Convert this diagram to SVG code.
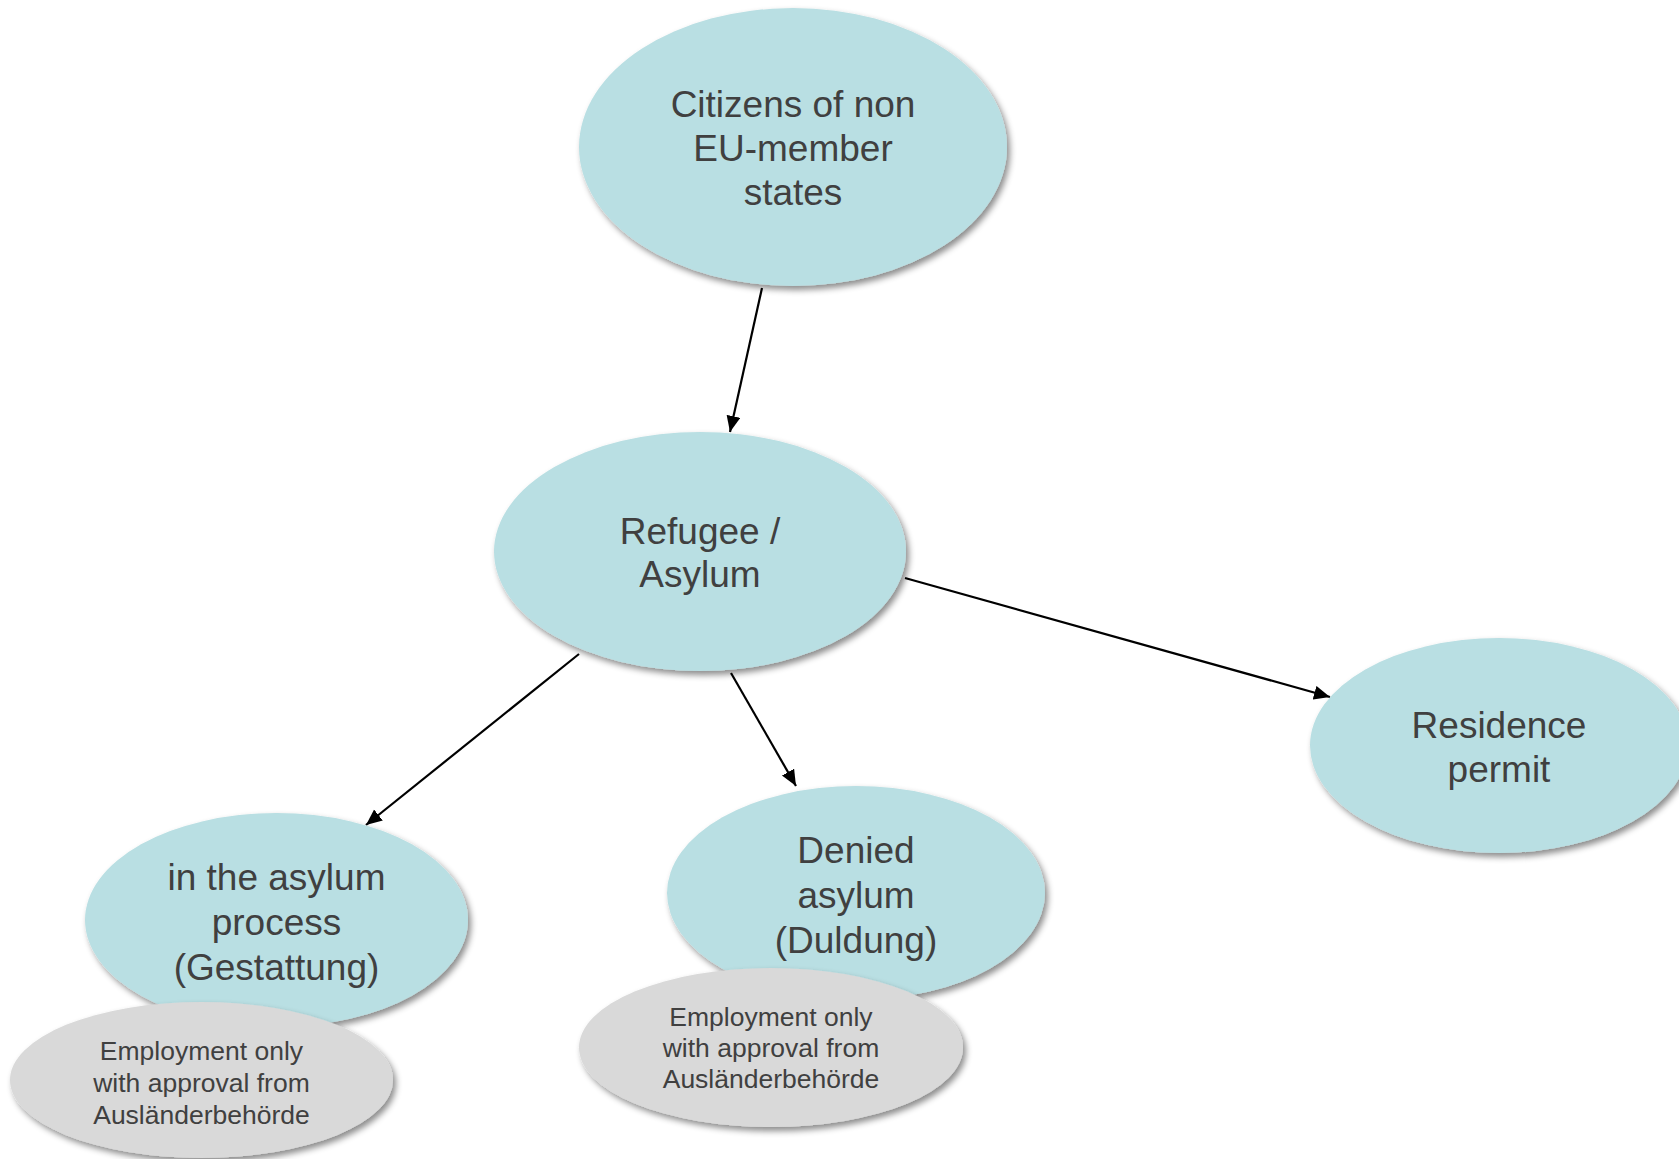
<svg xmlns="http://www.w3.org/2000/svg" width="1679" height="1159" viewBox="0 0 1679 1159">
  <style>
    .blue { fill: #B9DFE3; filter: url(#sh); }
    .grey { fill: #D9D9D9; filter: url(#sh); }
    .big { font-family: "Liberation Sans", Arial, sans-serif; font-size: 37px; fill: #404040; text-anchor: middle; }
    .small { font-family: "Liberation Sans", Arial, sans-serif; font-size: 26.5px; fill: #404040; text-anchor: middle; }
    .conn { stroke: #000; stroke-width: 2.2; fill: none; marker-end: url(#arr); }
  </style>
  <defs>
    <filter id="sh" x="-10%" y="-10%" width="125%" height="130%">
      <feDropShadow dx="3" dy="4" stdDeviation="3" flood-color="#000" flood-opacity="0.45"/>
    </filter>
    <marker id="arr" markerUnits="userSpaceOnUse" markerWidth="17" markerHeight="15" refX="16" refY="7" orient="auto">
      <path d="M0,0 L16,7 L0,14 z" fill="#000"/>
    </marker>
  </defs>
  <rect width="1679" height="1159" fill="#fff"/>

  <g id="connectors">
    <line class="conn" x1="762" y1="288" x2="730" y2="432"/>
    <line class="conn" x1="579" y1="654" x2="366" y2="825"/>
    <line class="conn" x1="731" y1="673" x2="796" y2="786"/>
    <line class="conn" x1="905" y1="578" x2="1330" y2="697"/>
  </g>

  <g id="citizens">
    <ellipse class="blue" cx="793" cy="147" rx="214" ry="139"/>
    <text class="big" x="793" y="117">Citizens of non</text>
    <text class="big" x="793" y="161">EU-member</text>
    <text class="big" x="793" y="205">states</text>
  </g>

  <g id="refugee">
    <ellipse class="blue" cx="700" cy="551.5" rx="206" ry="119.5"/>
    <text class="big" x="700" y="544">Refugee /</text>
    <text class="big" x="700" y="587">Asylum</text>
  </g>

  <g id="residence">
    <ellipse class="blue" cx="1499" cy="745.5" rx="189" ry="107.5"/>
    <text class="big" x="1499" y="738">Residence</text>
    <text class="big" x="1499" y="782">permit</text>
  </g>

  <g id="asylum-process">
    <ellipse class="blue" cx="276.5" cy="920" rx="191.5" ry="107"/>
    <text class="big" x="276.5" y="890">in the asylum</text>
    <text class="big" x="276.5" y="935">process</text>
    <text class="big" x="276.5" y="980">(Gestattung)</text>
  </g>

  <g id="employment-1">
    <ellipse class="grey" cx="201.5" cy="1080" rx="191.5" ry="78"/>
    <text class="small" x="201.5" y="1060">Employment only</text>
    <text class="small" x="201.5" y="1092">with approval from</text>
    <text class="small" x="201.5" y="1124">Ausländerbehörde</text>
  </g>

  <g id="denied">
    <ellipse class="blue" cx="856" cy="893" rx="189" ry="107"/>
    <text class="big" x="856" y="863">Denied</text>
    <text class="big" x="856" y="908">asylum</text>
    <text class="big" x="856" y="953">(Duldung)</text>
  </g>

  <g id="employment-2">
    <ellipse class="grey" cx="771" cy="1047.5" rx="192" ry="79.5"/>
    <text class="small" x="771" y="1026">Employment only</text>
    <text class="small" x="771" y="1057">with approval from</text>
    <text class="small" x="771" y="1088">Ausländerbehörde</text>
  </g>
</svg>
